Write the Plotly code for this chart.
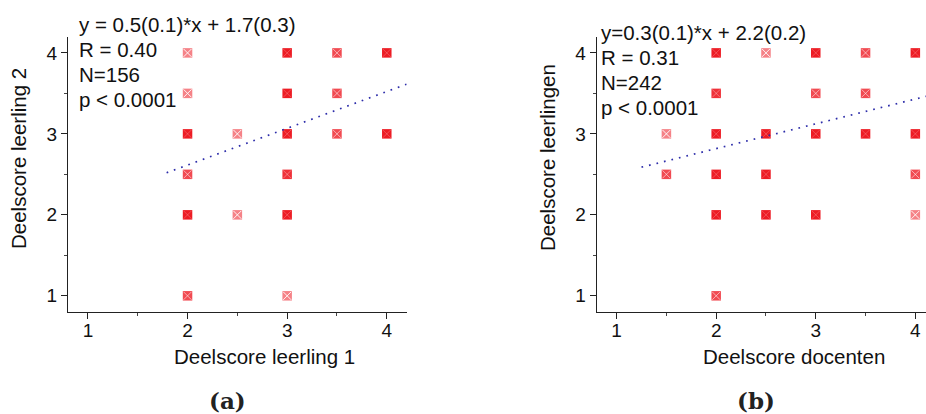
import plotly.graph_objects as go

# ---------------- data ----------------
# panel (a)
a_x = [2, 2, 2, 2, 2, 2, 2.5, 2.5, 3, 3, 3, 3, 3, 3, 3.5, 3.5, 3.5, 4, 4]
a_y = [4, 3.5, 3, 2.5, 2, 1, 3, 2, 4, 3.5, 3, 2.5, 2, 1, 4, 3.5, 3, 4, 3]
a_n = [1, 1, 14, 2, 10, 2, 1, 1, 18, 12, 45, 3, 12, 1, 2, 2, 2, 16, 12]
a_fit_x = [1.79, 4.2]
a_slope, a_icpt = 0.454, 1.707
a_text = ["y = 0.5(0.1)*x + 1.7(0.3)", "R = 0.40", "N=156", "p < 0.0001"]
a_xtitle = "Deelscore leerling 1"
a_ytitle = "Deelscore leerling 2"

# panel (b)
b_x = [1.5, 1.5, 2, 2, 2, 2, 2, 2, 2.5, 2.5, 2.5, 2.5, 3, 3, 3, 3, 3.5, 3.5, 3.5, 4, 4, 4, 4]
b_y = [3, 2.5, 4, 3.5, 3, 2.5, 2, 1, 4, 3, 2.5, 2, 4, 3.5, 3, 2, 4, 3.5, 3, 4, 3, 2.5, 2]
b_n = [1, 2, 12, 3, 20, 12, 14, 2, 1, 16, 12, 12, 22, 2, 40, 12, 2, 2, 14, 22, 16, 2, 1]
b_fit_x = [1.25, 4.2]
b_slope, b_icpt = 0.306, 2.206
b_text = ["y=0.3(0.1)*x + 2.2(0.2)", "R = 0.31", "N=242", "p < 0.0001"]
b_xtitle = "Deelscore docenten"
b_ytitle = "Deelscore leerlingen"

tick_vals = [1, 2, 3, 4]
tick_text = ["1", "2", "3", "4"]
panel_labels = ["(a)", "(b)"]

# ---------------- figure ----------------
W, H = 926, 414
RED = "rgb(237,28,36)"
FONT = "Liberation Sans, Arial, sans-serif"

fig = go.Figure()


def add_panel(xs, ys, ns, fx, slope, icpt, xa, ya):
    sq_op = [1 - 0.45 ** n for n in ns]
    x_op = [max(0.22, 0.9 * 0.6 ** (n - 1)) for n in ns]
    fig.add_trace(go.Scatter(
        x=xs, y=ys, mode="markers", xaxis=xa, yaxis=ya, showlegend=False,
        marker=dict(symbol="square", size=9.5, color=RED, opacity=sq_op,
                    line=dict(width=0)),
        hoverinfo="skip", cliponaxis=False))
    fig.add_trace(go.Scatter(
        x=xs, y=ys, mode="markers", xaxis=xa, yaxis=ya, showlegend=False,
        marker=dict(symbol="x-thin-open", size=8, color="white", opacity=x_op,
                    line=dict(width=1, color="white")),
        hoverinfo="skip", cliponaxis=False))
    fig.add_trace(go.Scatter(
        x=fx, y=[slope * v + icpt for v in fx], mode="lines", xaxis=xa, yaxis=ya,
        showlegend=False, line=dict(color="rgb(45,45,170)", width=1.7, dash="1.7px,6px"),
        hoverinfo="skip"))


add_panel(a_x, a_y, a_n, a_fit_x, a_slope, a_icpt, "x", "y")
add_panel(b_x, b_y, b_n, b_fit_x, b_slope, b_icpt, "x2", "y2")

ydom = [102 / H, (H - 36.7) / H]
axis_common = dict(
    showgrid=False, zeroline=False, showline=True, linecolor="#222", linewidth=1.3,
    ticks="outside", ticklen=6, tickwidth=1.2, tickcolor="#222",
    tickvals=tick_vals, ticktext=tick_text,
    tickfont=dict(family=FONT, size=19, color="#111"),
    minor=dict(ticks="outside", ticklen=3, tickwidth=1, tickcolor="#444", dtick=0.5, tick0=0),
    automargin=False, fixedrange=True,
)
xaxis_extra = dict(ticklabelstandoff=-5)

fig.update_layout(
    width=W, height=H, autosize=False,
    margin=dict(l=0, r=0, t=0, b=0),
    paper_bgcolor="white", plot_bgcolor="white",
    xaxis=dict(domain=[68 / W, 406.7 / W], range=[0.8, 4.2], anchor="y", **axis_common, **xaxis_extra),
    yaxis=dict(domain=ydom, range=[0.8, 4.2], anchor="x", **axis_common),
    xaxis2=dict(domain=[596.7 / W, 1.0], range=[0.8, 4.107], anchor="y2", **axis_common, **xaxis_extra),
    yaxis2=dict(domain=ydom, range=[0.8, 4.2], anchor="x2", **axis_common),
)

ann = []


def txt(x, y, s, size=20.5, **kw):
    d = dict(x=x / W, y=1 - y / H, xref="paper", yref="paper", text=s, showarrow=False,
             font=dict(family=FONT, size=size, color="#111"), xanchor="left", yanchor="middle")
    d.update(kw)
    ann.append(d)


# stats text
for i, s in enumerate(a_text):
    txt(77, 23.7 + 25 * i + 0.5, s)
for i, s in enumerate(b_text):
    txt(599.3, 32.2 + 25 * i + 0.5, s)

# axis titles
txt(264, 356, a_xtitle, xanchor="center")
txt(793.7, 356, b_xtitle, xanchor="center")
txt(19, 159, a_ytitle, xanchor="center", textangle=-90)
txt(548, 158, b_ytitle, xanchor="center", textangle=-90)

# panel labels
for cx, lab in zip([227.7, 756], panel_labels):
    txt(cx, 400, "<b>" + lab + "</b>", xanchor="center",
        font=dict(family="DejaVu Serif, Liberation Serif, serif", size=23, color="#222"))

fig.update_layout(annotations=ann)
fig.write_html("out.html", config={"displayModeBar": False},
               post_script="document.body.style.margin='0';document.body.style.overflow='hidden';")
